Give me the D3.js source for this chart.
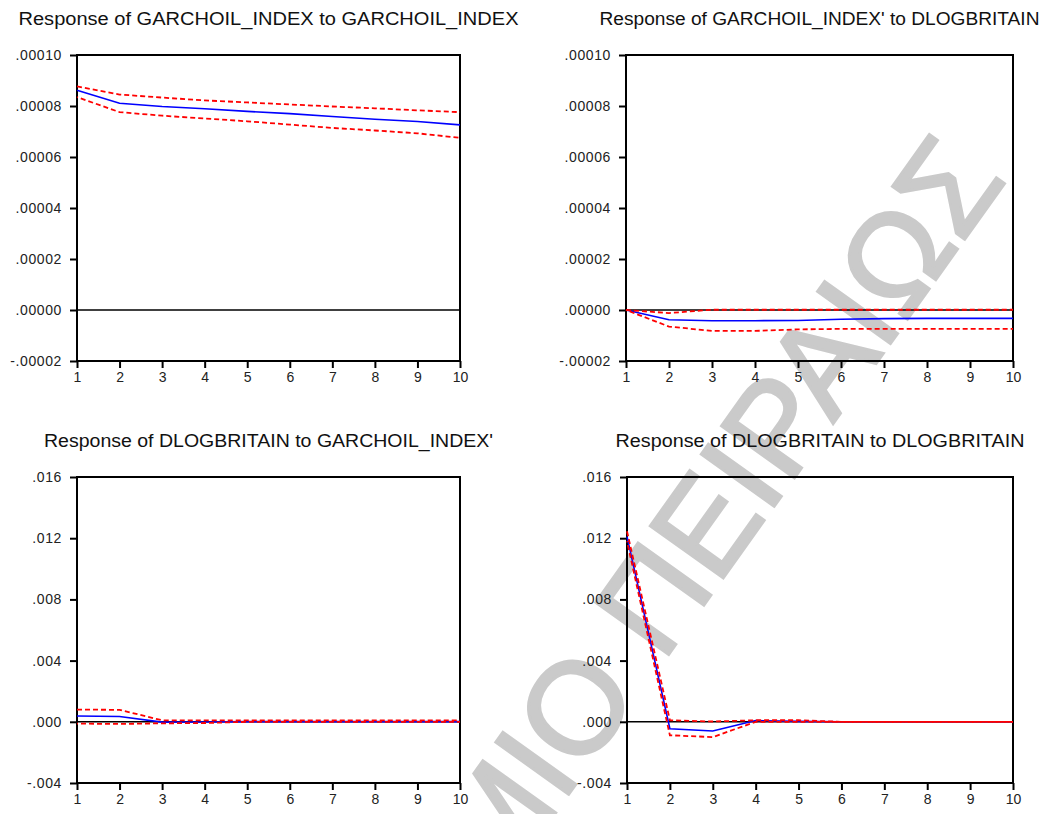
<!DOCTYPE html>
<html>
<head>
<meta charset="utf-8">
<script src="https://cdn.jsdelivr.net/npm/d3@7"></script>
<style>
  html, body { margin: 0; padding: 0; background: #fff; }
  svg { display: block; }
  text { font-family: "Liberation Sans", Arial, sans-serif; }
</style>
</head>
<body>
<svg id="chart" width="1057" height="814"></svg>
<script>
// Impulse response horizon
const periods = [1, 2, 3, 4, 5, 6, 7, 8, 9, 10];

// Response of GARCHOIL_INDEX to GARCHOIL_INDEX
const oilOilResp  = [0.0000862, 0.0000811, 0.0000798, 0.0000789, 0.0000779, 0.0000770, 0.0000759, 0.0000748, 0.0000739, 0.0000726];
const oilOilUpper = [0.0000877, 0.0000845, 0.0000833, 0.0000822, 0.0000814, 0.0000806, 0.0000798, 0.0000791, 0.0000783, 0.0000776];
const oilOilLower = [0.0000835, 0.0000776, 0.0000762, 0.0000751, 0.0000740, 0.0000727, 0.0000714, 0.0000704, 0.0000693, 0.0000675];

// Response of GARCHOIL_INDEX to DLOGBRITAIN
const oilBritResp  = [0, -0.0000038, -0.0000042, -0.0000042, -0.0000041, -0.0000036, -0.0000034, -0.0000033, -0.0000033, -0.0000033];
const oilBritUpper = [0, -0.0000012, 0.0000001, 0.0000001, 0.0000001, 0.0000001, 0.0000001, 0.0000001, 0.0000001, 0.0000001];
const oilBritLower = [0, -0.0000065, -0.0000082, -0.0000082, -0.0000076, -0.0000074, -0.0000074, -0.0000074, -0.0000074, -0.0000074];

// Response of DLOGBRITAIN to GARCHOIL_INDEX
const britOilResp  = [0.00038, 0.00035, -0.00002, -0.00001, 0.00001, 0.00001, 0.00001, 0.00001, 0.00001, 0.00001];
const britOilUpper = [0.00080, 0.00078, 0.00010, 0.00009, 0.00009, 0.00009, 0.00009, 0.00009, 0.00009, 0.00009];
const britOilLower = [-0.00012, -0.00014, -0.00010, -0.00008, 0.00000, 0.00000, 0.00000, 0.00000, 0.00000, 0.00000];

// Response of DLOGBRITAIN to DLOGBRITAIN
const britBritResp  = [0.01210, -0.00045, -0.00060, 0.00008, 0.00003, 0.00000, 0.00000, 0.00000, 0.00000, 0.00000];
const britBritUpper = [0.01245, 0.00010, 0.00002, 0.00010, 0.00010, 0.00000, 0.00000, 0.00000, 0.00000, 0.00000];
const britBritLower = [0.01180, -0.00088, -0.00100, 0.00000, 0.00000, 0.00000, 0.00000, 0.00000, 0.00000, 0.00000];

// Axis ticks and labels
const oilTicks = [-0.00002, 0, 0.00002, 0.00004, 0.00006, 0.00008, 0.00010];
const oilTickLabels = ["-.00002", ".00000", ".00002", ".00004", ".00006", ".00008", ".00010"];
const britTicks = [-0.004, 0, 0.004, 0.008, 0.012, 0.016];
const britTickLabels = ["-.004", ".000", ".004", ".008", ".012", ".016"];

const panelTitles = [
  "Response of GARCHOIL_INDEX  to GARCHOIL_INDEX",
  "Response of GARCHOIL_INDEX'  to DLOGBRITAIN",
  "Response of DLOGBRITAIN to GARCHOIL_INDEX'",
  "Response of DLOGBRITAIN  to DLOGBRITAIN"
];

const svg = d3.select("#chart");

// Background watermark text
const wm = svg.append("g");
const wmText = wm.append("text")
  .attr("x", 0).attr("y", 0)
  .attr("font-size", 130)
  .attr("fill", "#cacaca")
  .attr("stroke", "#cacaca")
  .attr("stroke-width", 3)
  .text("ΠΑΝΕΠΙΣΤΗΜΙΟ ΠΕΙΡΑΙΩΣ");
const oBox = wmText.node().getExtentOfChar(11);
const ocx = oBox.x + oBox.width / 2, ocy = oBox.y + oBox.height / 2 + 8;
wm.attr("transform", `translate(582,712) rotate(-54.5) translate(${-ocx},${-ocy})`);

const panels = [
  { title: panelTitles[0], left: 77, right: 460, top: 55, bottom: 361, titleW: 500,
    ticks: oilTicks, labels: oilTickLabels, resp: oilOilResp, up: oilOilUpper, lo: oilOilLower },
  { title: panelTitles[1], left: 626, right: 1013, top: 55, bottom: 361, titleW: 440,
    ticks: oilTicks, labels: oilTickLabels, resp: oilBritResp, up: oilBritUpper, lo: oilBritLower },
  { title: panelTitles[2], left: 77, right: 460, top: 477, bottom: 783, titleW: 449,
    ticks: britTicks, labels: britTickLabels, resp: britOilResp, up: britOilUpper, lo: britOilLower },
  { title: panelTitles[3], left: 627, right: 1013, top: 477, bottom: 783, titleW: 409,
    ticks: britTicks, labels: britTickLabels, resp: britBritResp, up: britBritUpper, lo: britBritLower }
];

panels.forEach(p => {
  const x = d3.scaleLinear().domain([1, 10]).range([p.left, p.right]);
  const y = d3.scaleLinear().domain(d3.extent(p.ticks)).range([p.bottom, p.top]);
  const g = svg.append("g");

  // title
  g.append("text")
    .attr("x", (p.left + p.right) / 2 + 0)
    .attr("y", p.top - 30)
    .attr("text-anchor", "middle")
    .attr("font-size", 18)
    .attr("fill", "#111")
    .attr("textLength", p.titleW)
    .attr("lengthAdjust", "spacingAndGlyphs")
    .text(p.title);

  // y axis
  const yAxis = d3.axisLeft(y)
    .tickValues(p.ticks)
    .tickSize(7)
    .tickPadding(8)
    .tickFormat((d, i) => p.labels[i]);
  const ya = g.append("g").attr("transform", `translate(${p.left},0)`).call(yAxis);
  ya.select(".domain").remove();
  ya.selectAll(".tick line").attr("stroke", "#000").attr("stroke-width", 2);
  ya.selectAll(".tick text").attr("font-size", 14).attr("letter-spacing", 0.6)
    .attr("fill", "#222").attr("font-family", "'Liberation Sans', Arial, sans-serif");

  // x axis
  const xAxis = d3.axisBottom(x)
    .tickValues(periods)
    .tickSize(7)
    .tickPadding(4)
    .tickFormat(d3.format("d"));
  const xa = g.append("g").attr("transform", `translate(0,${p.bottom})`).call(xAxis);
  xa.select(".domain").remove();
  xa.selectAll(".tick line").attr("stroke", "#000").attr("stroke-width", 2);
  xa.selectAll(".tick text").attr("font-size", 14)
    .attr("fill", "#222").attr("font-family", "'Liberation Sans', Arial, sans-serif");

  // frame
  g.append("rect")
    .attr("x", p.left).attr("y", p.top)
    .attr("width", p.right - p.left).attr("height", p.bottom - p.top)
    .attr("fill", "none").attr("stroke", "#000").attr("stroke-width", 2);

  // zero line
  g.append("line")
    .attr("x1", p.left).attr("x2", p.right)
    .attr("y1", y(0)).attr("y2", y(0))
    .attr("stroke", "#000").attr("stroke-width", 1.6);

  const line = d3.line().x((d, i) => x(periods[i])).y(d => y(d));

  g.append("path").datum(p.resp)
    .attr("d", line).attr("fill", "none")
    .attr("stroke", "#0000ff").attr("stroke-width", 1.6);

  g.append("path").datum(p.up)
    .attr("d", line).attr("fill", "none")
    .attr("stroke", "#ff0000").attr("stroke-width", 1.8)
    .attr("stroke-dasharray", "5,3");

  g.append("path").datum(p.lo)
    .attr("d", line).attr("fill", "none")
    .attr("stroke", "#ff0000").attr("stroke-width", 1.8)
    .attr("stroke-dasharray", "5,3")
    .attr("stroke-dashoffset", 4);
});
</script>
</body>
</html>
